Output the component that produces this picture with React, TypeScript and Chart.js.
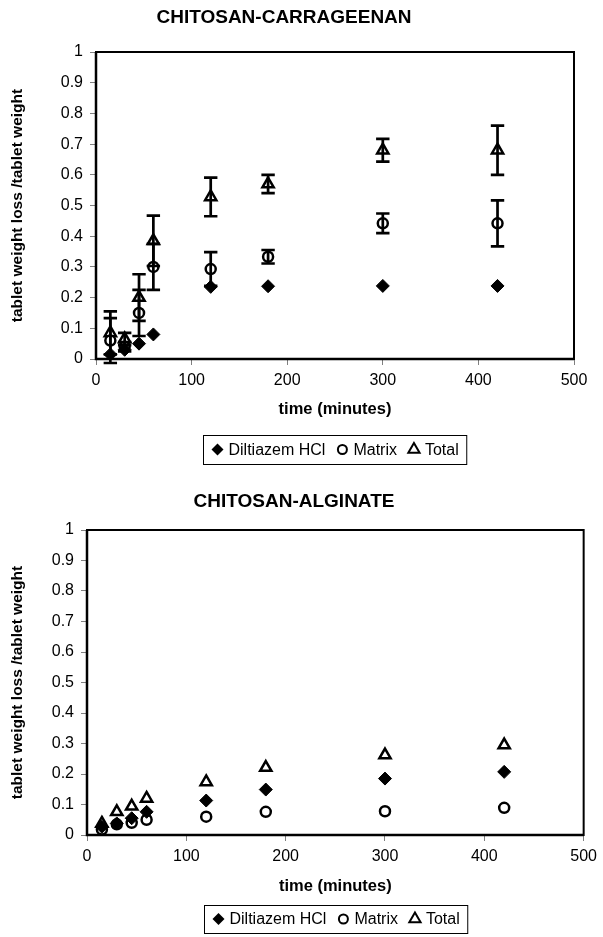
import React, { useEffect, useRef } from "react";
import { Chart, registerables } from "chart.js";

Chart.register(...registerables);

const FONT = "'Liberation Sans', Arial, Helvetica, sans-serif";

// ---------- data ----------
const times = [15, 30, 45, 60, 120, 180, 300, 420];
const xTickValues = [0, 100, 200, 300, 400, 500];
const yTickValues = [0, 0.1, 0.2, 0.3, 0.4, 0.5, 0.6, 0.7, 0.8, 0.9, 1];
const seriesNames = ["Diltiazem HCl", "Matrix", "Total"];

// CHITOSAN-CARRAGEENAN
const carrDiltiazem = [0.015, 0.03, 0.05, 0.08, 0.235, 0.237, 0.238, 0.238];
const carrMatrix = [0.06, 0.04, 0.15, 0.3, 0.293, 0.333, 0.442, 0.442];
const carrMatrixErr = [0.073, 0.015, 0.075, 0.075, 0.055, 0.022, 0.032, 0.075];
const carrTotal = [0.085, 0.065, 0.2, 0.385, 0.528, 0.57, 0.68, 0.68];
const carrTotalErr = [0.07, 0.02, 0.076, 0.082, 0.063, 0.03, 0.037, 0.08];

// CHITOSAN-ALGINATE
const algDiltiazem = [0.027, 0.038, 0.055, 0.076, 0.113, 0.149, 0.185, 0.207];
const algMatrix = [0.018, 0.035, 0.04, 0.05, 0.06, 0.076, 0.078, 0.089];
const algTotal = [0.038, 0.076, 0.094, 0.12, 0.174, 0.221, 0.262, 0.295];

// ---------- layout ----------
const W = 603;

type Geo = {
  canvasTop: number;
  canvasHeight: number;
  plotLeft: number;
  plotRight: number;
  plotTop: number;
  plotBottom: number;
  titleX: number;
  titleY: number;
  xTitleY: number;
  legendTop: number;
  legendHeight: number;
};

const geoTop: Geo = {
  canvasTop: 0,
  canvasHeight: 468,
  plotLeft: 96,
  plotRight: 574,
  plotTop: 52,
  plotBottom: 359,
  titleX: 284,
  titleY: 18,
  xTitleY: 409,
  legendTop: 435,
  legendHeight: 29,
};

const geoBottom: Geo = {
  canvasTop: 468,
  canvasHeight: 469,
  plotLeft: 87,
  plotRight: 587,
  plotTop: 62,
  plotBottom: 367,
  titleX: 294,
  titleY: 34,
  xTitleY: 418,
  legendTop: 437,
  legendHeight: 28,
};

type Cfg = {
  title: string;
  dil: number[];
  mat: number[];
  tot: number[];
  matErr?: number[];
  totErr?: number[];
  geo: Geo;
};

function drawMarker(ctx: CanvasRenderingContext2D, kind: number, x: number, y: number) {
  ctx.save();
  ctx.lineWidth = 2;
  ctx.strokeStyle = "#000";
  ctx.beginPath();
  if (kind === 0) {
    const r = 6;
    ctx.moveTo(x, y - r);
    ctx.lineTo(x + r, y);
    ctx.lineTo(x, y + r);
    ctx.lineTo(x - r, y);
    ctx.closePath();
    ctx.fillStyle = "#000";
    ctx.fill();
  } else if (kind === 1) {
    ctx.arc(x, y, 4.5, 0, Math.PI * 2);
    ctx.fillStyle = "#fff";
    ctx.fill();
    ctx.stroke();
  } else {
    const r = 6.5;
    ctx.moveTo(x, y - r);
    ctx.lineTo(x + r * 0.866, y + r / 2);
    ctx.lineTo(x - r * 0.866, y + r / 2);
    ctx.closePath();
    ctx.fillStyle = "#fff";
    ctx.fill();
    ctx.stroke();
  }
  ctx.restore();
}

function makeChart(canvas: HTMLCanvasElement, cfg: Cfg) {
  const g = cfg.geo;
  const xTitleFont = { family: FONT, size: 16.5, weight: "bold" as const };
  const yTitleFont = { family: FONT, size: 15.5, weight: "bold" as const };
  const xTitleLH = 16.5 * 1.2;
  const yTitleLH = 15.5 * 1.2;
  const xAxisHeight = g.xTitleY + xTitleLH / 2 - g.plotBottom;

  const pts = (vals: number[]) => times.map((t, i) => ({ x: t, y: vals[i] }));

  const framePlugin = {
    id: "frame",
    beforeDatasetsDraw(chart: any) {
      const { ctx, chartArea } = chart;
      ctx.save();
      ctx.strokeStyle = "#000";
      ctx.lineWidth = 2;
      ctx.strokeRect(chartArea.left, chartArea.top, chartArea.right - chartArea.left, chartArea.bottom - chartArea.top);
      ctx.lineWidth = 2.5;
      ctx.beginPath();
      ctx.moveTo(chartArea.left, chartArea.top);
      ctx.lineTo(chartArea.left, chartArea.bottom);
      ctx.lineTo(chartArea.right, chartArea.bottom);
      ctx.stroke();
      ctx.restore();
    },
  };

  const errorPlugin = {
    id: "errorBars",
    afterDatasetsDraw(chart: any) {
      const { ctx } = chart;
      const xs = chart.scales.x;
      const ys = chart.scales.y;
      const sets: [number[], number[] | undefined][] = [
        [cfg.mat, cfg.matErr],
        [cfg.tot, cfg.totErr],
      ];
      ctx.save();
      ctx.strokeStyle = "#000";
      ctx.lineWidth = 2.7;
      sets.forEach(([vals, errs]) => {
        if (!errs) return;
        times.forEach((t, i) => {
          const x = xs.getPixelForValue(t);
          const yT = ys.getPixelForValue(vals[i] + errs[i]);
          const yB = ys.getPixelForValue(vals[i] - errs[i]);
          ctx.beginPath();
          ctx.moveTo(x, yT);
          ctx.lineTo(x, yB);
          ctx.moveTo(x - 6.7, yT);
          ctx.lineTo(x + 6.7, yT);
          ctx.moveTo(x - 6.7, yB);
          ctx.lineTo(x + 6.7, yB);
          ctx.stroke();
        });
      });
      ctx.restore();
    },
  };

  const textPlugin = {
    id: "titleLegend",
    afterDraw(chart: any) {
      const { ctx, chartArea } = chart;
      ctx.save();
      // chart title
      ctx.fillStyle = "#000";
      ctx.font = `bold 19px ${FONT}`;
      ctx.textAlign = "center";
      ctx.textBaseline = "middle";
      ctx.fillText(cfg.title, g.titleX, g.titleY);

      // legend
      ctx.font = `16px ${FONT}`;
      const pad = 8;
      const mw = 12;
      const gapMT = 5;
      const gapItem = 11;
      const widths = seriesNames.map((n) => ctx.measureText(n).width);
      let total = pad * 2;
      widths.forEach((w, i) => {
        total += mw + gapMT + w + (i < widths.length - 1 ? gapItem : 0);
      });
      const cx = (chartArea.left + chartArea.right) / 2;
      const bx = Math.round(cx - total / 2) + 0.5;
      const by = g.legendTop + 0.5;
      ctx.strokeStyle = "#000";
      ctx.lineWidth = 1;
      ctx.strokeRect(bx, by, total, g.legendHeight);
      let x = bx + pad;
      const cy = g.legendTop + g.legendHeight / 2;
      ctx.textAlign = "left";
      seriesNames.forEach((n, i) => {
        drawMarker(ctx, i, x + mw / 2, cy);
        x += mw + gapMT;
        ctx.fillStyle = "#000";
        ctx.fillText(n, x, cy + 1);
        x += widths[i] + gapItem;
      });
      ctx.restore();
    },
  };

  return new Chart(canvas, {
    type: "scatter",
    data: {
      datasets: [
        {
          label: seriesNames[0],
          data: pts(cfg.dil),
          pointStyle: "rectRot",
          pointRadius: 6.5,
          pointBackgroundColor: "#000",
          pointBorderColor: "#000",
          pointBorderWidth: 1,
          showLine: false,
        },
        {
          label: seriesNames[1],
          data: pts(cfg.mat),
          pointStyle: "circle",
          pointRadius: 5,
          pointBackgroundColor: "#fff",
          pointBorderColor: "#000",
          pointBorderWidth: 2.5,
          showLine: false,
        },
        {
          label: seriesNames[2],
          data: pts(cfg.tot),
          pointStyle: "triangle",
          pointRadius: 6.5,
          pointBackgroundColor: "#fff",
          pointBorderColor: "#000",
          pointBorderWidth: 2.5,
          showLine: false,
        },
      ],
    },
    options: {
      responsive: false,
      animation: false,
      devicePixelRatio: 1,
      layout: {
        padding: {
          left: 0,
          top: g.plotTop,
          right: W - g.plotRight,
          bottom: g.canvasHeight - g.plotBottom - xAxisHeight,
        },
      },
      plugins: {
        legend: { display: false },
        title: { display: false },
        tooltip: { enabled: false },
      },
      scales: {
        x: {
          type: "linear",
          min: 0,
          max: 500,
          afterBuildTicks: (s: any) => {
            s.ticks = xTickValues.map((v) => ({ value: v }));
          },
          afterFit: (s: any) => {
            s.height = xAxisHeight;
          },
          border: { display: false },
          grid: {
            drawOnChartArea: false,
            drawTicks: true,
            tickLength: 6,
            color: "#808080",
            lineWidth: 1,
          },
          ticks: {
            color: "#000",
            font: { family: FONT, size: 16 },
            padding: 6,
            maxRotation: 0,
            callback: (v: any) => String(v),
          },
          title: {
            display: true,
            text: "time (minutes)",
            color: "#000",
            font: xTitleFont,
            padding: { top: 0, bottom: 0 },
          },
        },
        y: {
          type: "linear",
          min: 0,
          max: 1,
          afterBuildTicks: (s: any) => {
            s.ticks = yTickValues.map((v) => ({ value: v }));
          },
          afterFit: (s: any) => {
            s.width = g.plotLeft;
          },
          border: { display: false },
          grid: {
            drawOnChartArea: false,
            drawTicks: true,
            tickLength: 6,
            color: "#808080",
            lineWidth: 1,
          },
          ticks: {
            color: "#000",
            font: { family: FONT, size: 16 },
            padding: 7,
            callback: (v: any) => String(Math.round(Number(v) * 10) / 10),
          },
          title: {
            display: true,
            text: "tablet weight loss /tablet weight",
            color: "#000",
            font: yTitleFont,
            padding: { top: 18 - yTitleLH / 2, bottom: 0 },
          },
        },
      },
    },
    plugins: [framePlugin, errorPlugin, textPlugin],
  } as any);
}

function ChartPanel({ cfg }: { cfg: Cfg }) {
  const ref = useRef<HTMLCanvasElement | null>(null);
  useEffect(() => {
    if (!ref.current) return;
    const chart = makeChart(ref.current, cfg);
    return () => chart.destroy();
  }, [cfg]);
  return (
    <canvas
      ref={ref}
      width={W}
      height={cfg.geo.canvasHeight}
      style={{
        position: "absolute",
        left: 0,
        top: cfg.geo.canvasTop,
        width: W,
        height: cfg.geo.canvasHeight,
        display: "block",
      }}
    />
  );
}

const topCfg: Cfg = {
  title: "CHITOSAN-CARRAGEENAN",
  dil: carrDiltiazem,
  mat: carrMatrix,
  tot: carrTotal,
  matErr: carrMatrixErr,
  totErr: carrTotalErr,
  geo: geoTop,
};

const bottomCfg: Cfg = {
  title: "CHITOSAN-ALGINATE",
  dil: algDiltiazem,
  mat: algMatrix,
  tot: algTotal,
  geo: geoBottom,
};

export default function App() {
  return (
    <div
      style={{
        position: "fixed",
        left: 0,
        top: 0,
        width: W,
        height: 937,
        background: "#fff",
        overflow: "hidden",
      }}
    >
      <ChartPanel cfg={topCfg} />
      <ChartPanel cfg={bottomCfg} />
    </div>
  );
}
